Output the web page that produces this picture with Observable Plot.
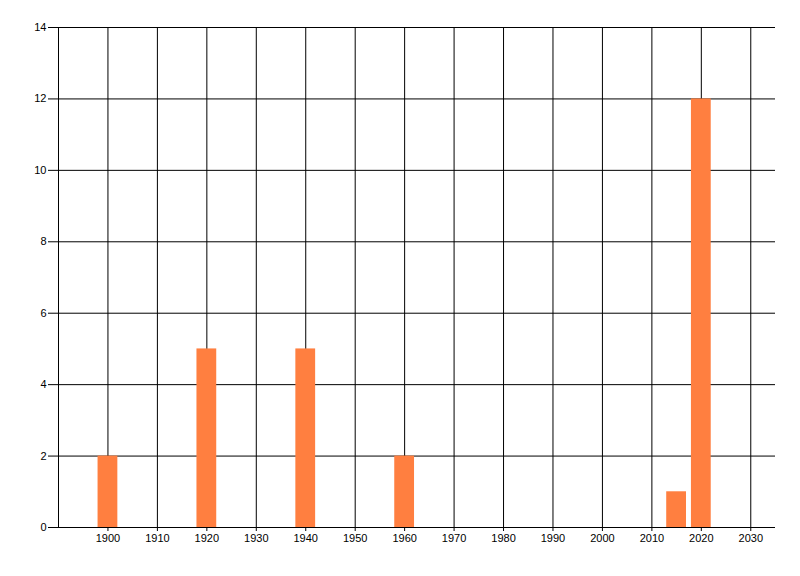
<!DOCTYPE html>
<html><head>
<meta charset="utf-8">
<script src="https://cdn.jsdelivr.net/npm/d3@7"></script>
<script src="https://cdn.jsdelivr.net/npm/@observablehq/plot@0.6"></script>
<style>body{margin:0;background:#fff}</style>
</head><body><div id="chart"></div>
<script>
const years = [1900, 1920, 1940, 1960, 2015, 2020];
const counts = [2, 5, 5, 2, 1, 12];
const xTicks = [1900, 1910, 1920, 1930, 1940, 1950, 1960, 1970, 1980, 1990, 2000, 2010, 2020, 2030];
const yTicks = [0, 2, 4, 6, 8, 10, 12, 14];
const xDomain = [1890, 2035];
const yDomain = [0, 14];
const barHalfWidth = 2;

const data = years.map((y, i) => ({year: y, count: counts[i]}));

const chart = Plot.plot({
  width: 800, height: 576,
  marginLeft: 58, marginRight: 25, marginTop: 27, marginBottom: 49,
  style: {fontFamily: "'Liberation Sans', Arial, sans-serif", fontSize: "11px", background: "#fff", color: "#000"},
  x: {domain: xDomain},
  y: {domain: yDomain},
  marks: [
    Plot.gridX(xTicks, {stroke: "#000", strokeOpacity: 1}),
    Plot.gridY(yTicks.filter(v => v > 0), {stroke: "#000", strokeOpacity: 1}),
    Plot.ruleX([xDomain[0]], {stroke: "#000"}),
    Plot.rectY(data, {x1: d => d.year - barHalfWidth, x2: d => d.year + barHalfWidth, y: "count", fill: "#ff7f40"}),
    Plot.ruleY([0], {stroke: "#000"}),
    Plot.axisX(xTicks, {tickSize: 4, tickPadding: 3, tickFormat: d => String(d), label: null}),
    Plot.axisY(yTicks, {tickSize: 10, tickPadding: 2, tickFormat: d => String(d), label: null})
  ]
});
document.getElementById("chart").appendChild(chart);
</script>
</body></html>
